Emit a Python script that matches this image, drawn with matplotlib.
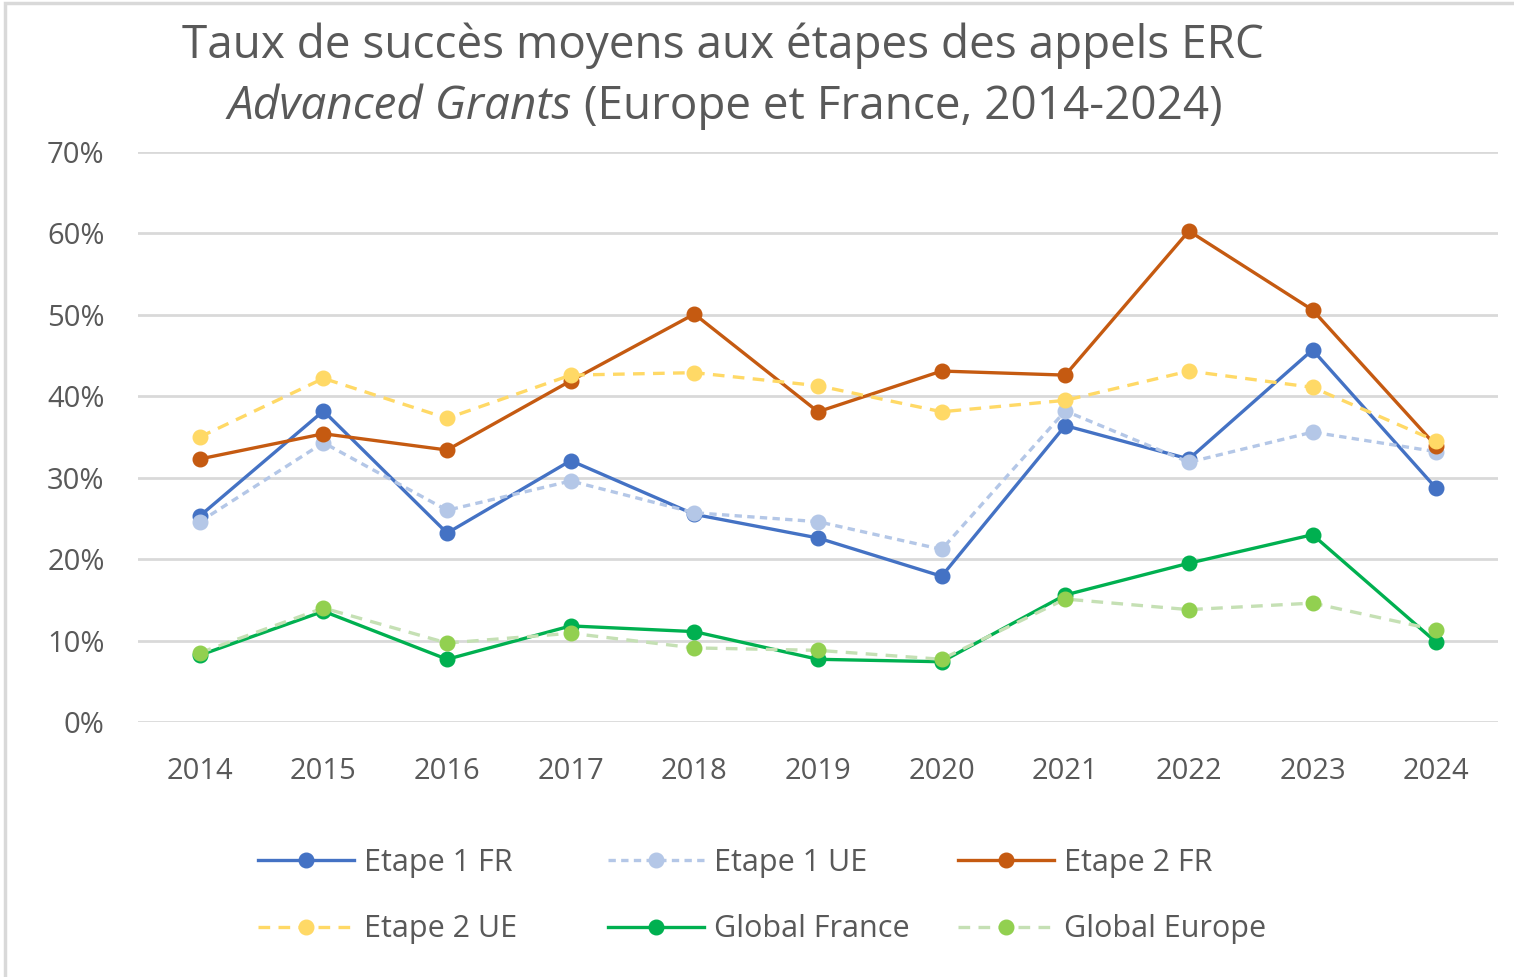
import matplotlib
matplotlib.use("Agg")
import matplotlib.pyplot as plt
from matplotlib.patches import Rectangle
from matplotlib.ticker import FuncFormatter

years = ["2014", "2015", "2016", "2017", "2018", "2019", "2020", "2021", "2022", "2023", "2024"]
etape1_fr = [25.3, 38.2, 23.2, 32.1, 25.5, 22.6, 17.9, 36.4, 32.3, 45.7, 28.7]
etape1_ue = [24.6, 34.3, 26.0, 29.6, 25.7, 24.6, 21.2, 38.2, 31.9, 35.6, 33.2]
etape2_fr = [32.3, 35.4, 33.4, 41.9, 50.1, 38.1, 43.1, 42.6, 60.3, 50.6, 33.9]
etape2_ue = [35.0, 42.2, 37.3, 42.6, 42.9, 41.3, 38.1, 39.5, 43.1, 41.1, 34.5]
global_fr = [8.2, 13.6, 7.7, 11.8, 11.1, 7.7, 7.4, 15.6, 19.5, 23.0, 9.8]
global_eu = [8.5, 14.0, 9.7, 10.9, 9.1, 8.8, 7.7, 15.1, 13.8, 14.6, 11.3]

plt.rcParams['font.family'] = ['Open Sans', 'DejaVu Sans']
txt = '#595959'

fig = plt.figure(figsize=(15.14, 9.77), dpi=100)
ax = fig.add_axes([138/1514, 1-722/977, (1498-138)/1514, (722-152)/977])

x = list(range(len(years)))
series = [
    ("Etape 1 FR", etape1_fr, '#4472C4', '#4472C4', '-'),
    ("Etape 1 UE", etape1_ue, '#B4C7E7', '#B4C7E7', (0, (2.2, 1.6))),
    ("Etape 2 FR", etape2_fr, '#C55A11', '#C55A11', '-'),
    ("Etape 2 UE", etape2_ue, '#FFD966', '#FFD966', (0, (3.5, 2.5))),
    ("Global France", global_fr, '#00B050', '#00B050', '-'),
    ("Global Europe", global_eu, '#C5E0B4', '#92D050', (0, (3.5, 2.5))),
]
handles = {}
for name, vals, lc, mc, ls in series:
    h, = ax.plot(x, vals, color=lc, linestyle=ls, linewidth=2.4, marker='o',
                 markersize=10.5, markerfacecolor=mc, markeredgecolor=mc, label=name)
    handles[name] = h

ax.set_xlim(-0.5, len(years) - 0.5)
ax.set_ylim(0, 70)
ax.set_yticks(range(0, 71, 10))
ax.yaxis.set_major_formatter(FuncFormatter(lambda v, p: f"{int(v)}%"))
ax.set_xticks(x)
ax.set_xticklabels(years)
ax.tick_params(axis='both', length=0, labelsize=21, colors=txt)
ax.tick_params(axis='y', pad=24)
ax.tick_params(axis='x', pad=25)
ax.grid(axis='y', color='#D9D9D9', linewidth=2)
ax.set_axisbelow(True)
for s in ax.spines.values():
    s.set_visible(False)

# Title
fig.text(723/1514, 1-46/977, "Taux de succès moyens aux étapes des appels ERC",
         ha='center', va='center', fontsize=33, color=txt)
r = fig.canvas.get_renderer()
t1 = fig.text(0, 1-107/977, "Advanced Grants", ha='left', va='center',
              fontsize=33, style='italic', color=txt)
t2 = fig.text(0, 1-107/977, " (Europe et France, 2014-2024)", ha='left', va='center',
              fontsize=33, color=txt)
w1 = t1.get_window_extent(r).width
w2 = t2.get_window_extent(r).width
start = 725 - (w1 + w2) / 2
t1.set_x(start / 1514)
t2.set_x((start + w1) / 1514)

# Legend: three equal-width columns
columns = [["Etape 1 FR", "Etape 2 UE"], ["Etape 1 UE", "Global France"], ["Etape 2 FR", "Global Europe"]]
col_x = [258, 608, 958]
for cx, names in zip(col_x, columns):
    leg = fig.legend([handles[n] for n in names], names, loc='center left', ncol=1,
                     bbox_to_anchor=(cx/1514, 1-896/977), frameon=False, fontsize=22,
                     handlelength=3.15, handletextpad=0.33, borderpad=0, borderaxespad=0,
                     labelspacing=1.2, labelcolor=txt)

fig.patches.append(Rectangle((5/1514, -0.01), 2, 1-3/977+0.01, transform=fig.transFigure,
                             fill=False, edgecolor='#D9D9D9', linewidth=2.5))

fig.savefig("out.png", dpi=100, facecolor='white')
